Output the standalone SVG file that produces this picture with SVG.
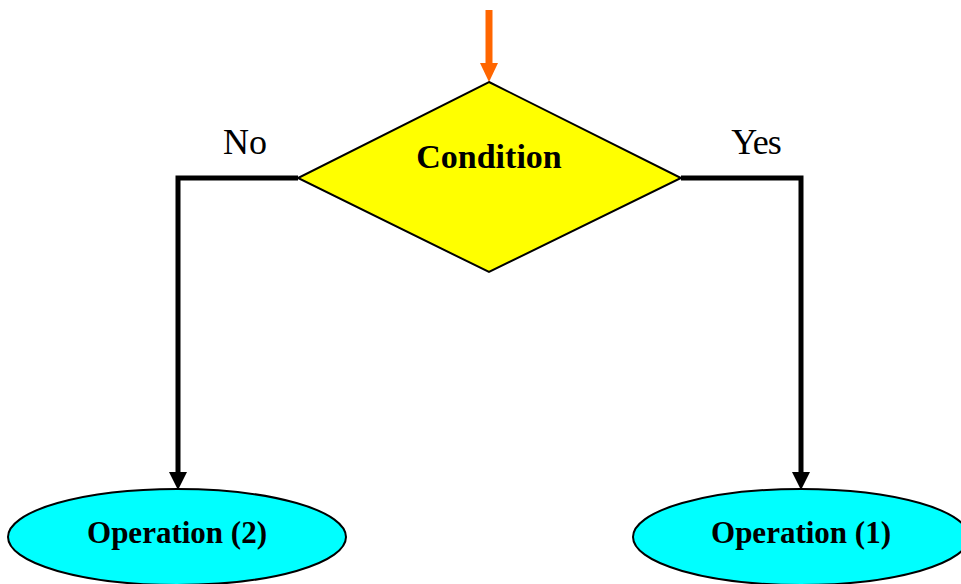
<svg xmlns="http://www.w3.org/2000/svg" width="961" height="584" viewBox="0 0 961 584">
<defs>
<style>
.conn{fill:none;stroke:#000;stroke-width:5;stroke-linejoin:miter}
.head{fill:#000}
.lbl{font-family:"Liberation Serif","Times New Roman",serif;font-size:36px;fill:#000;text-anchor:middle}
.bold{font-family:"Liberation Serif","Times New Roman",serif;font-weight:bold;fill:#000;text-anchor:middle}
.op{fill:#00FFFF;stroke:#000;stroke-width:2}
</style>
</defs>
<rect width="961" height="584" fill="#fff"/>
<g id="connectors">
<line x1="489" y1="10" x2="489" y2="65" stroke="#FF6600" stroke-width="7"/>
<polygon points="480,63 498,63 489,82" fill="#FF6600"/>
<polyline class="conn" points="298,178 178,178 178,474"/>
<polygon class="head" points="169,472 187,472 178,490"/>
<polyline class="conn" points="681,178 801,178 801,474"/>
<polygon class="head" points="792,472 810,472 801,490"/>
<text class="lbl" x="245" y="154">No</text>
<text class="lbl" x="756" y="154" letter-spacing="-1">Yes</text>
</g>
<g id="condition">
<polygon points="489,82 681,178 489,272 298,178" fill="#FFFF00" stroke="#000" stroke-width="2"/>
<text class="bold" x="489" y="168" font-size="34">Condition</text>
</g>
<g id="op2">
<ellipse class="op" cx="177" cy="537" rx="169" ry="48"/>
<text class="bold" x="177" y="543" font-size="31">Operation (2)</text>
</g>
<g id="op1">
<ellipse class="op" cx="801" cy="537" rx="168" ry="48"/>
<text class="bold" x="801" y="543" font-size="31">Operation (1)</text>
</g>
</svg>
